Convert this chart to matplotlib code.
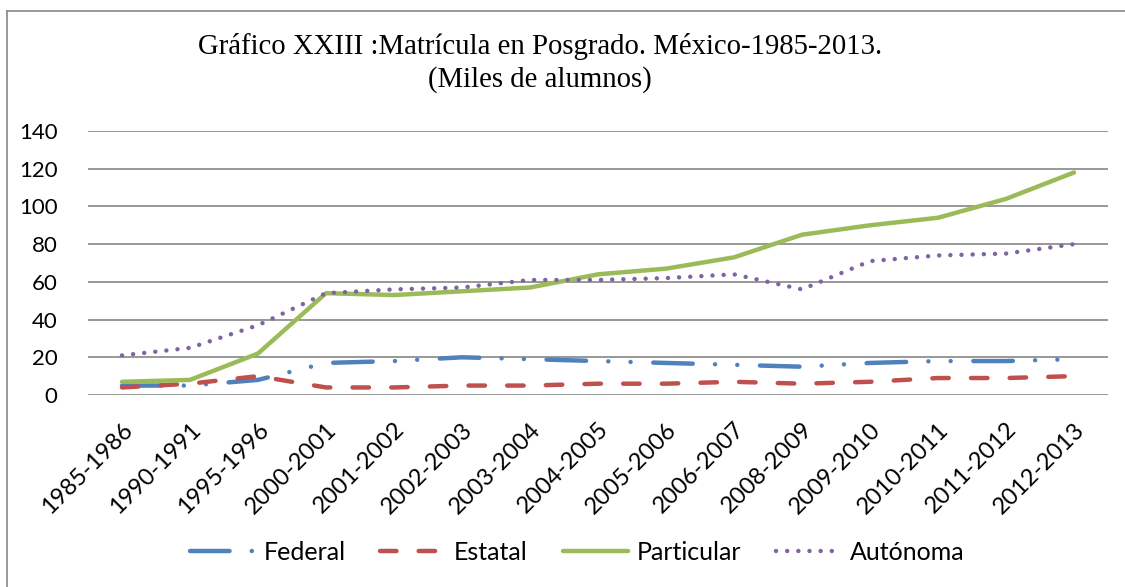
import matplotlib
matplotlib.use("Agg")
import matplotlib.pyplot as plt
from matplotlib.lines import Line2D

categories = ["1985-1986", "1990-1991", "1995-1996", "2000-2001", "2001-2002",
              "2002-2003", "2003-2004", "2004-2005", "2005-2006", "2006-2007",
              "2008-2009", "2009-2010", "2010-2011", "2011-2012", "2012-2013"]
federal = [5, 5, 8, 17, 18, 20, 19, 18, 17, 16, 15, 17, 18, 18, 19]
estatal = [4, 6, 10, 4, 4, 5, 5, 6, 6, 7, 6, 7, 9, 9, 10]
particular = [7, 8, 22, 54, 53, 55, 57, 64, 67, 73, 85, 90, 94, 104, 118]
autonoma = [21, 25, 37, 54, 56, 57, 61, 61, 62, 64, 56, 71, 74, 75, 80]
yticks = [0, 20, 40, 60, 80, 100, 120, 140]

title1 = "Gráfico XXIII :Matrícula en Posgrado. México-1985-2013."
title2 = "(Miles de alumnos)"

W, H = 1125, 587
fig = plt.figure(figsize=(W / 100, H / 100), dpi=100)
ax = fig.add_axes([88 / W, 1 - 395 / H, (1108 - 88) / W, (395 - 131) / H])

x = list(range(len(categories)))
lw = 3.2
ax.plot(x, federal, color="#4F81BD", lw=lw, label="Federal",
        linestyle=(0, (8.9, 5.0, 0.01, 5.0, 0.01, 5.1)),
        dash_capstyle="round", solid_capstyle="round", zorder=3)
ax.plot(x, estatal, color="#C0504D", lw=lw, label="Estatal",
        linestyle=(0, (3.7, 5.0)), dash_capstyle="round", zorder=3)
ax.plot(x, particular, color="#9BBB59", lw=lw, label="Particular",
        solid_capstyle="round", solid_joinstyle="round", zorder=3)
ax.plot(x, autonoma, color="#8064A2", lw=lw, label="Autónoma",
        linestyle=(0, (0.01, 2.5)), dash_capstyle="round", zorder=3)

ax.set_xlim(-0.5, len(categories) - 0.5)
ax.set_ylim(0, 140)
ax.set_yticks(yticks)
ax.set_xticks(x)
tick_font = "Lato"
ax.set_xticklabels(categories, rotation=45, ha="right", rotation_mode="anchor",
                   fontsize=17, family=tick_font)
ax.set_yticklabels([str(v) for v in yticks], fontsize=16, family=tick_font)
ax.tick_params(axis="both", length=0)
ax.tick_params(axis="y", pad=22)
ax.tick_params(axis="x", pad=17)
for s in ax.spines.values():
    s.set_visible(False)
ax.grid(axis="y", color="#868686", lw=1.2)
ax.set_axisbelow(True)

fig.text(540 / W, 1 - 46 / H, title1, ha="center", va="center",
         fontsize=20.7, family="Liberation Serif")
fig.text(540 / W, 1 - 80 / H, title2, ha="center", va="center",
         fontsize=20.7, family="Liberation Serif")

leg = fig.legend(loc="center", bbox_to_anchor=(577 / W, 1 - 552 / H), ncol=4,
                 frameon=False, prop={"family": tick_font, "size": 18},
                 handlelength=2.6, handletextpad=0.35, columnspacing=1.4)

# outer border (left and top visible)
fig.add_artist(Line2D([7 / W, 7 / W], [0, 1 - 11 / H], color="#888888", lw=1.2))
fig.add_artist(Line2D([7 / W, 1], [1 - 11 / H, 1 - 11 / H], color="#888888", lw=1.2))

fig.savefig("out.png", dpi=100)
